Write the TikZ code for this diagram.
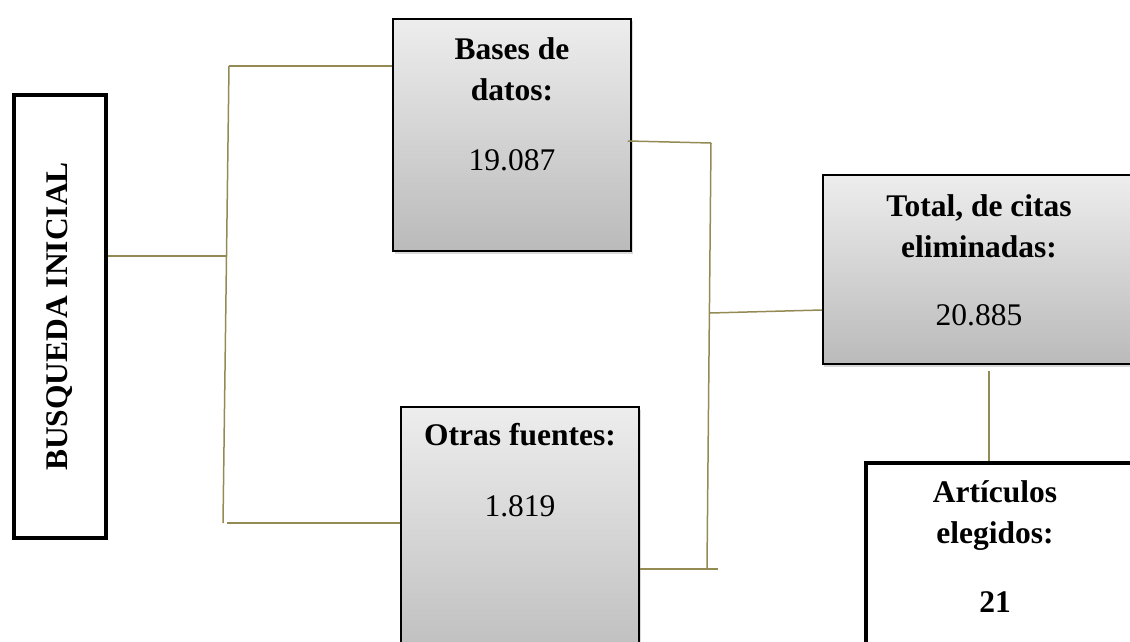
\documentclass[tikz,border=0pt]{standalone}
\usepackage{fontspec}
\setmainfont{Liberation Serif}
\usetikzlibrary{shadows, positioning}
\definecolor{olivine}{RGB}{148,138,84}
\tikzstyle{gradbox} = [rectangle, draw=black, line width=1.5pt, top color=black!7, bottom color=black!27, drop shadow={shadow xshift=1.5pt, shadow yshift=-2.5pt, opacity=0.3}]
\tikzstyle{plainbox} = [rectangle, draw=black, line width=4pt, fill=white]
\tikzstyle{txt} = [align=center, inner sep=0pt, font=\fontsize{31.5}{41}\selectfont]
\tikzstyle{conn} = [line width=1.5pt, draw=olivine]

\begin{document}
\begin{tikzpicture}[x=1pt, y=-1pt]
        \useasboundingbox (0,0) rectangle (1130,642);
        \clip (0,0) rectangle (1130,642);

        \node (bi) [plainbox, minimum width=92pt, minimum height=443pt] at (60,316.5) {};
        \node (bitxt) [txt, rotate=90] at (bi) {\textbf{BUSQUEDA INICIAL}};

        \node (bd) [gradbox, minimum width=238pt, minimum height=232pt] at (512,135) {};
        \node (bdtxt) [txt, below=19pt of bd.north] {\textbf{Bases de}\\\textbf{datos:}\\[29pt]19.087};

        \node (of) [gradbox, minimum width=238pt, minimum height=273pt] at (520,543.5) {};
        \node (oftxt) [txt, below=17pt of of.north] {\textbf{Otras fuentes:}\\[30pt]1.819};

        \node (tc) [gradbox, minimum width=400pt, minimum height=189pt, anchor=west] at (822,269.5) {};
        \node (tctxt) [txt, anchor=north] at (979,194) {\textbf{Total, de citas}\\\textbf{eliminadas:}\\[27pt]20.885};

        \node (ae) [plainbox, minimum width=400pt, minimum height=239pt, anchor=north west] at (864,461) {};
        \node (aetxt) [txt, anchor=north] at (995,480) {\textbf{Artículos}\\\textbf{elegidos:}\\[28pt]\textbf{21}};

        % left bracket
        \coordinate (j1) at (226,256);
        \coordinate (ja) at (229,66);
        \coordinate (jb) at (223,523);
        \coordinate (jb2) at (227,523);
        \draw [conn] (bi.east |- j1) -- (j1);
        \draw [conn] (ja) -- (jb);
        \draw [conn] (ja) -- (bd.west |- ja);
        \draw [conn] (jb2) -- (of.west |- jb2);

        % right bracket
        \coordinate (jc) at (711,143);
        \coordinate (jd) at (707,568);
        \coordinate (je) at (718,569);
        \coordinate (jm) at (710,313);
        \draw [conn] ([xshift=-4pt]bd.east |- 0,141) -- (jc);
        \draw [conn] (jc) -- (jd);
        \draw [conn] (of.east |- je) -- (je);
        \draw [conn] (jm) -- (tc.west |- 0,310);

        % total to chosen
        \coordinate (jt) at (989,371);
        \draw [conn] (jt) -- (ae.north -| jt);
    \end{tikzpicture}
\end{document}
